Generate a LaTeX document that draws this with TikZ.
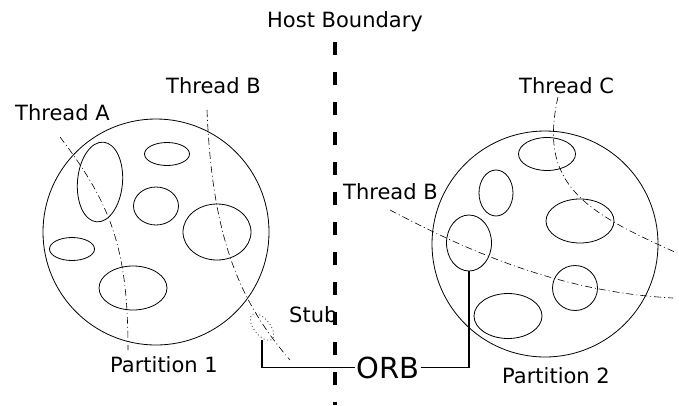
\documentclass[tikz,border=0pt]{standalone}
\usepackage{fontspec}
\setmainfont{DejaVu Sans}
\usepackage{tikz}
\usetikzlibrary{shapes.geometric,positioning}

\begin{document}
\begin{tikzpicture}[
 x=1pt,y=-1pt,
 partition/.style={draw,circle,line width=0.8pt,inner sep=0pt,minimum size=226pt},
 obj/.style={draw,ellipse,line width=0.8pt,inner sep=0pt},
 thread/.style={line width=0.6pt,dash pattern=on 7pt off 3pt on 1pt off 3pt},
 lbl/.style={anchor=base west,inner sep=0pt,font=\fontsize{21}{24}\selectfont},
 wire/.style={line width=1.2pt},
 hostline/.style={line width=3.5pt,dash pattern=on 13pt off 17pt},
]
\useasboundingbox (0,0) rectangle (679,405);

% partitions
\node[partition] (p1) at (156,232) {};
\node[partition] (p2) at (545,244) {};

% objects in partition 1
\node[obj,minimum width=45pt,minimum height=80pt,rotate=-5] (a1) at (100,182) {};
\node[obj,minimum width=45pt,minimum height=23pt] (a2) at (167,154) {};
\node[obj,minimum width=45pt,minimum height=38pt] (a3) at (156,206) {};
\node[obj,minimum width=68pt,minimum height=56pt] (a4) at (217,232) {};
\node[obj,minimum width=45pt,minimum height=23pt] (a5) at (72,249) {};
\node[obj,minimum width=68pt,minimum height=44pt] (a6) at (133,288) {};

% objects in partition 2
\node[obj,minimum width=57pt,minimum height=33pt] (b1) at (547,154) {};
\node[obj,minimum width=34pt,minimum height=46pt] (b2) at (496,193) {};
\node[obj,minimum width=68pt,minimum height=44pt] (b3) at (580,221) {};
\node[obj,minimum width=45pt,minimum height=56pt] (orbobj) at (469,243) {};
\node[obj,minimum width=45pt,minimum height=45pt] (b5) at (575,288) {};
\node[obj,minimum width=68pt,minimum height=45pt] (b6) at (508,316) {};

% stub
\node[draw,ellipse,line width=0.6pt,dash pattern=on 1pt off 2.5pt,inner sep=0pt,minimum width=16pt,minimum height=32pt,rotate=39] (stub) at (262,327) {};
\coordinate (stubfoot) at (262,340);

% threads
\coordinate (ta0) at (60,137);
\coordinate (ta1) at (128,350);
\coordinate (tb0) at (207,110);
\coordinate (tb1) at (290,360);
\coordinate (tc0) at (558,97);
\coordinate (tc1) at (677,253);
\coordinate (td0) at (390,210);
\coordinate (td1) at (673,298);
\draw[thread] (ta0) .. controls (112,205) and (128,250) .. (ta1);
\draw[thread] (tb0) .. controls (212,235) and (238,300) .. (tb1);
\draw[thread] (tc0) .. controls (538,185) and (585,212) .. (tc1);
\draw[thread] (td0) .. controls (470,252) and (560,292) .. (td1);

% labels
\node[lbl] (lta) at (15,120) {Thread A};
\node[lbl] (ltb) at (166,93) {Thread B};
\node[lbl] (ltc) at (519,93) {Thread C};
\node[lbl] (ltd) at (343,199) {Thread B};
\node[lbl] (lp1) at (110,372) {Partition 1};
\node[lbl] (lp2) at (502,383) {Partition 2};
\node[lbl] (lstub) at (289,322) {Stub};
\node[lbl] (lhost) at (267,27) {Host Boundary};
\node[lbl,font=\fontsize{29}{32}\selectfont,inner sep=1.5pt] (orb) at (355,378) {ORB};

% host boundary
\coordinate (hosttop) at (335,42);
\coordinate (hostbot) at (335,405);
\draw[hostline] (hosttop) -- (hostbot);

% ORB wiring
\draw[wire] (stubfoot) |- (orb.west);
\draw[wire] (orb.east) -| (orbobj.south);
\end{tikzpicture}
\end{document}
